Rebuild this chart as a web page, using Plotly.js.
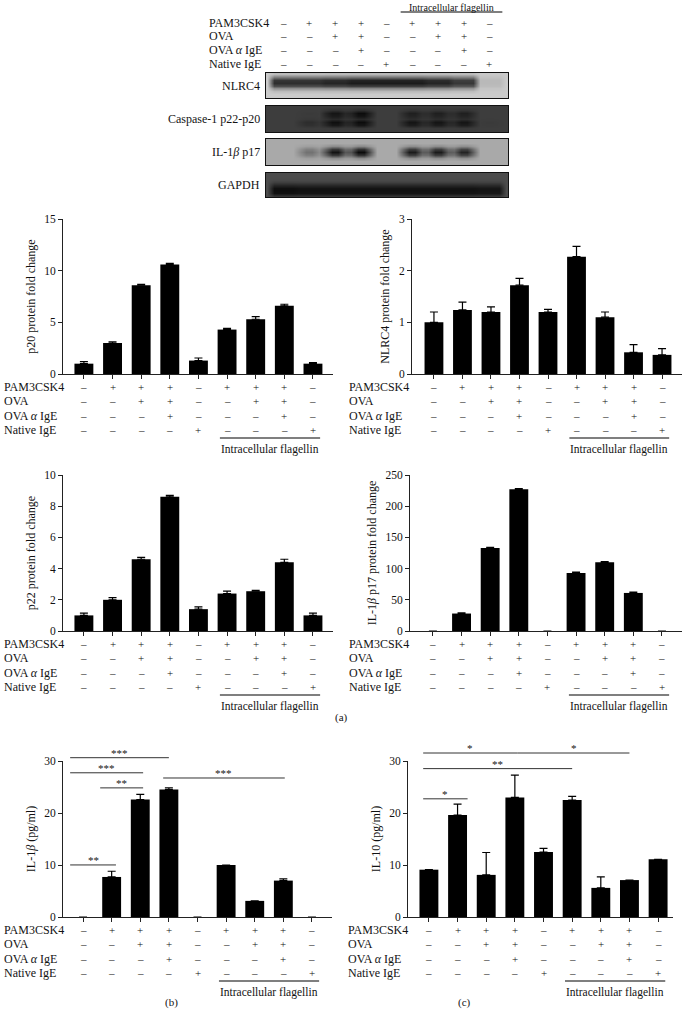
<!DOCTYPE html>
<html><head><meta charset="utf-8">
<script src="https://cdn.plot.ly/plotly-3.0.1.min.js"></script>
<style>html,body{margin:0;padding:0;background:#fff}</style></head>
<body><div id="chart" style="width:683px;height:1018px"></div>
<script>
// ---------------- data ----------------
const lanes = [0,1,2,3,4,5,6,7,8];
const rowLabels = ['PAM3CSK4','OVA','OVA <i>α</i> IgE','Native IgE'];
const pam3csk4  = [0,1,1,1,0,1,1,1,0];
const ova       = [0,0,1,1,0,0,1,1,0];
const ovaIgE    = [0,0,0,1,0,0,0,1,0];
const nativeIgE = [0,0,0,0,1,0,0,0,1];
const flagellinLabel = 'Intracellular flagellin';

const p20     = [1.0,3.0,8.6,10.6,1.3,4.3,5.3,6.6,1.0];
const p20Err  = [0.2,0.12,0.08,0.12,0.25,0.12,0.25,0.15,0.1];
const nlrc4   = [1.0,1.24,1.2,1.72,1.2,2.27,1.1,0.42,0.37];
const nlrc4Err= [0.2,0.15,0.1,0.13,0.05,0.2,0.1,0.15,0.12];
const p22     = [1.0,2.0,4.6,8.6,1.4,2.4,2.55,4.4,1.0];
const p22Err  = [0.14,0.14,0.12,0.1,0.15,0.15,0.06,0.2,0.14];
const p17     = [0,28,133,227,0,93,110,61,0];
const p17Err  = [0,1.2,1.2,1.2,0,1.2,1.2,1.2,0];
const il1b    = [0,7.7,22.6,24.5,0,10.0,3.1,7.0,0];
const il1bErr = [0,1.1,1.0,0.35,0,0,0,0.35,0];
const il10    = [9.1,19.6,8.1,23.0,12.5,22.5,5.6,7.1,11.1];
const il10Err = [0,2.1,4.3,4.3,0.7,0.7,2.1,0,0];

// western blot band intensities (0 = none, 1 = strongest)
const blotNLRC4  = [0.85,0.85,0.9,0.95,0.95,0.95,0.9,0.8,0.1];
const blotP22    = [0,0.05,0.75,0.9,0,0.55,0.55,0.55,0];
const blotP20    = [0,0.3,0.85,0.9,0,0.75,0.75,0.75,0.05];
const blotP17    = [0,0.35,0.95,1,0,0.9,0.9,0.85,0];
const blotGAPDH  = [0.95,0.9,0.9,0.9,0.9,0.9,0.9,0.9,0.85];

// significance bars (from lane, to lane, height, label)
const sigBFrom = [-0.45,-0.45,0.6,2.8,-0.45];
const sigBTo   = [3.0,2.1,2.1,7.05,1.15];
const sigBY    = [30.6,27.7,24.8,26.7,10.0];
const sigBText = ['***','***','**','***','**'];
const sigCFrom = [-0.2,3.1,-0.2,-0.2];
const sigCTo   = [3.1,7.0,5.0,1.35];
const sigCY    = [31.5,31.5,28.5,22.7];
const sigCText = ['*','*','**','*'];

// ---------------- helpers ----------------
const W=683, H=1018;
const FONT = 'Liberation Serif, Times New Roman, serif';
const INK = '#111';
const px = v => v/W, py = v => 1 - v/H;
const traces=[], annotations=[], shapes=[];
const layout = {width:W,height:H,margin:{l:0,r:0,t:0,b:0},showlegend:false,
  paper_bgcolor:'#fff',plot_bgcolor:'rgba(0,0,0,0)',
  font:{family:FONT,size:11,color:INK}, annotations, shapes};

function axName(n){return n===1?'':String(n);}
function note(o){o.showarrow=false;o.opacity=0.99;o.font=Object.assign({family:FONT,size:11,color:INK},o.font||{});annotations.push(o);}

function barChart(n, vals, errs, xdom, ydomPx, xr, yr, ytick, ytitle){
  const xa='x'+axName(n), ya='y'+axName(n);
  traces.push({type:'bar',x:lanes,y:vals,xaxis:xa,yaxis:ya,width:0.66,
    marker:{color:'#000',line:{width:0}},hoverinfo:'skip',
    error_y:{type:'data',array:errs.map(e=>e>0?e:null),arrayminus:errs.map(e=>e>0?0:null),symmetric:false,color:'#000',thickness:1.2,width:4}});
  layout['xaxis'+axName(n)] = {domain:[px(xdom[0]),px(xdom[1])],range:xr,anchor:ya,tickvals:lanes,
    showticklabels:false,ticks:'outside',ticklen:4,tickcolor:'#222',showline:true,linecolor:'#222',linewidth:1,
    showgrid:false,zeroline:false,fixedrange:true};
  layout['yaxis'+axName(n)] = {domain:[py(ydomPx[1]),py(ydomPx[0])],range:yr,anchor:xa,tickvals:ytick,
    ticks:'outside',ticklen:4,tickcolor:'#222',showline:true,linecolor:'#222',linewidth:1,showgrid:false,zeroline:false,
    tickfont:{size:11.5,family:FONT,color:INK},title:{text:ytitle,font:{size:12,family:FONT,color:INK},standoff:6},fixedrange:true};
}

function table(xa, labelX, rowYs, lineY, textY, brk, textAnchor, textSize){
  const rows=[pam3csk4,ova,ovaIgE,nativeIgE];
  rows.forEach((r,ri)=>{
    note({xref:'paper',yref:'paper',x:px(labelX),y:py(rowYs[ri]),xanchor:'left',yanchor:'middle',
      text:rowLabels[ri],font:{size:12}});
    r.forEach((v,i)=>note({xref:xa,yref:'paper',x:lanes[i],y:py(rowYs[ri]),xanchor:'center',yanchor:'middle',
      text:v?'+':'–',font:{size:11}}));
  });
  shapes.push({type:'line',xref:xa,yref:'paper',x0:brk[0],x1:brk[1],y0:py(lineY),y1:py(lineY),line:{color:'#555',width:1.5}});
  note({xref:xa,yref:'paper',x:(brk[0]+brk[1])/2,y:py(textY),xanchor:'center',yanchor:textAnchor||'middle',
    text:flagellinLabel,font:{size:textSize||11.5}});
}
function chartTable(xa, labelX, basePx){
  table(xa,labelX,[basePx+13,basePx+27,basePx+42,basePx+56],basePx+64,basePx+75,[4.75,8.25]);
}

function sigBars(xa, ya, from, to, ys, texts){
  from.forEach((f,i)=>{
    traces.push({type:'scatter',mode:'lines',x:[f,to[i]],y:[ys[i],ys[i]],xaxis:xa,yaxis:ya,
      line:{color:'#333',width:1},hoverinfo:'skip'});
    note({xref:xa,yref:ya,x:(f+to[i])/2,y:ys[i],xanchor:'center',yanchor:'bottom',yshift:-3,text:texts[i],font:{size:11}});
  });
}

// blot heatmaps
const laneOff=[-0.375,-0.125,0.125,0.375];
const gapW=[0.55,1,1,0.55], solidW=[1,1,1,1];
function blot(n, bands, profiles, colors, ydomPx, label, laneW){
  const xcols=[], owner=[], w=[];
  [-0.875,-0.625].forEach(x=>{xcols.push(x);owner.push(-1);w.push(0);});
  lanes.forEach(l=>laneOff.forEach((o,k)=>{xcols.push(l+o);owner.push(l);w.push(laneW[k]);}));
  [8.625,8.875].forEach(x=>{xcols.push(x);owner.push(-1);w.push(0);});
  const nRows=profiles[0].length, yrows=[...Array(nRows).keys()];
  const z=yrows.map(r=>xcols.map((x,c)=>{
    if(owner[c]<0) return 0;
    let v=0; bands.forEach((b,bi)=>{v+=b[owner[c]]*w[c]*profiles[bi][r];});
    return Math.min(1,v);
  }));
  const xa='x'+n, ya='y'+n;
  traces.push({type:'heatmap',x:xcols,y:yrows,z:z,xaxis:xa,yaxis:ya,zmin:0,zmax:1,zsmooth:'best',
    colorscale:[[0,colors[0]],[1,colors[1]]],showscale:false,hoverinfo:'skip'});
  layout['xaxis'+n]={domain:[px(266),px(508)],range:[-0.68,8.72],anchor:ya,showticklabels:false,ticks:'',
    showline:true,mirror:true,linecolor:'#111',linewidth:1,showgrid:false,zeroline:false,fixedrange:true};
  layout['yaxis'+n]={domain:[py(ydomPx[1]),py(ydomPx[0])],range:[-0.5,nRows-0.5],anchor:xa,showticklabels:false,ticks:'',
    showline:true,mirror:true,linecolor:'#111',linewidth:1,showgrid:false,zeroline:false,fixedrange:true};
  note({xref:'paper',yref:'paper',x:px(262),y:py((ydomPx[0]+ydomPx[1])/2),xanchor:'right',yanchor:'middle',
    text:label,font:{size:12}});
}

// ---------------- build ----------------
barChart(1,p20,p20Err,[63,333],[219,374],[-0.73,8.7],[0,15],[0,5,10,15],'p20 protein fold change');
barChart(2,nlrc4,nlrc4Err,[412,682],[219,374],[-0.77,8.7],[0,3],[0,1,2,3],'NLRC4 protein fold change');
barChart(3,p22,p22Err,[63,333],[475,631],[-0.73,8.7],[0,10],[0,2,4,6,8,10],'p22 protein fold change');
barChart(4,p17,p17Err,[410,682],[475,631],[-0.8,8.7],[0,250],[0,50,100,150,200,250],'IL-1<i>β</i> p17 protein fold change');
barChart(5,il1b,il1bErr,[63,332],[761,917],[-0.7,8.7],[0,30],[0,10,20,30],'IL-1<i>β</i> (pg/ml)');
barChart(6,il10,il10Err,[408,673],[761,917],[-0.73,8.52],[0,30],[0,10,20,30],'IL-10 (pg/ml)');

chartTable('x',2,374);
chartTable('x2',347,374);
chartTable('x3',2,631);
chartTable('x4',347,631);
chartTable('x5',2,917);
chartTable('x6',346,917);

// overlay axes for significance bars (extend above the plotted y range)
layout.yaxis11={domain:[py(917),py(750.4)],range:[0,32],anchor:'x5',visible:false,fixedrange:true};
layout.yaxis12={domain:[py(917),py(750.4)],range:[0,32],anchor:'x6',visible:false,fixedrange:true};
sigBars('x5','y11',sigBFrom,sigBTo,sigBY,sigBText);
sigBars('x6','y12',sigCFrom,sigCTo,sigCY,sigCText);

// blots
const profSingleUpper=[0,0,0.1,0.4,0.8,1,0.95,0.5,0.1];
const profP20=[0,0.1,0.8,1,0.3,0,0,0,0];
const profP22=[0,0,0,0,0.15,0.85,1,0.3,0];
const profMid=[0,0,0.2,0.75,1,0.75,0.2,0,0];
const profLow=[0.4,0.95,1,0.95,0.6,0.2,0.05,0,0];
blot(7,[blotNLRC4],[profSingleUpper],['#cbcbcb','#121212'],[73,98],'NLRC4',solidW);
blot(8,[blotP22,blotP20],[profP22,profP20],['#3d3d3d','#070707'],[106,132],'Caspase-1 p22-p20',gapW);
blot(9,[blotP17],[profMid],['#a9a9a9','#0b0b0b'],[139,165],'IL-1<i>β</i> p17',gapW);
blot(10,[blotGAPDH],[profLow],['#4c4c4c','#0a0a0a'],[173,197],'GAPDH',solidW);
table('x7',207,[23,36,50,64],12,0,[4.55,8.5],'top',10);

note({xref:'paper',yref:'paper',x:px(341),y:py(726),text:'(a)',font:{size:11}});
note({xref:'paper',yref:'paper',x:px(163),y:py(1011),text:'(b)',font:{size:11}});
note({xref:'paper',yref:'paper',x:px(473),y:py(1011),text:'(c)',font:{size:11}});

Plotly.newPlot('chart',traces,layout,{displayModeBar:false,staticPlot:true});
</script></body></html>
